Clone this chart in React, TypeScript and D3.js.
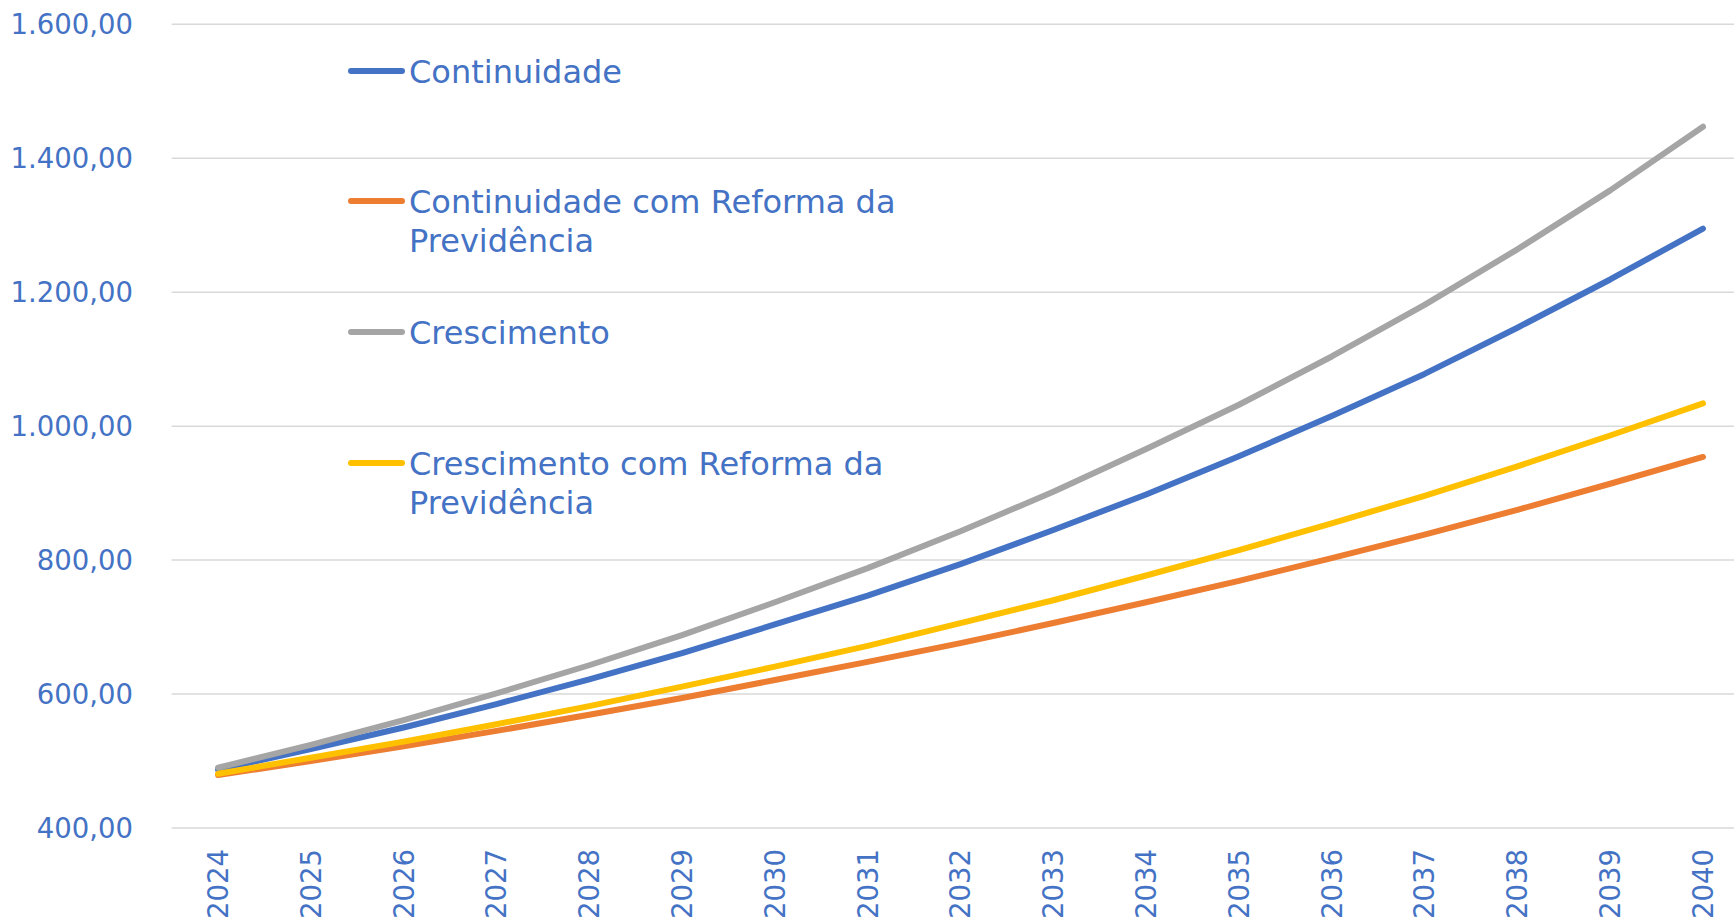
import React from "react";
import * as d3 from "d3";

const years = ["2024","2025","2026","2027","2028","2029","2030","2031","2032","2033","2034","2035","2036","2037","2038","2039","2040"];
const continuidade = [487, 518, 550, 585, 622, 661, 704, 747, 794, 845, 898, 955, 1015, 1078, 1147, 1219, 1295];
const continuidadeReforma = [479, 500, 522, 545, 569, 594, 621, 648, 676, 706, 737, 769, 803, 838, 875, 914, 954];
const crescimento = [490, 524, 561, 601, 643, 688, 737, 788, 843, 902, 966, 1032, 1104, 1181, 1264, 1352, 1447];
const crescimentoReforma = [481, 505, 529, 555, 582, 611, 641, 672, 706, 740, 777, 815, 855, 896, 940, 986, 1034];
const yTicks = [400, 600, 800, 1000, 1200, 1400, 1600];

const series = [
  { name: ["Continuidade"], values: continuidade, color: "#4472C4" },
  { name: ["Continuidade com Reforma da", "Previdência"], values: continuidadeReforma, color: "#ED7D31" },
  { name: ["Crescimento"], values: crescimento, color: "#A5A5A5" },
  { name: ["Crescimento com Reforma da", "Previdência"], values: crescimentoReforma, color: "#FFC000" },
];

const W = 1734, H = 919;
const FONT = "'DejaVu Sans', Lato, sans-serif";
const TEXT = "#4472C4";

export default function App() {
  const x = d3.scaleBand().domain(years).range([171.6, 1749.4]);
  const y = d3.scaleLinear().domain([400, 1600]).range([828, 24.3]);
  const fmt = (v: number) => {
    const s = v.toFixed(2).replace(".", ",");
    const [i, d] = s.split(",");
    return i.replace(/\B(?=(\d{3})+(?!\d))/g, ".") + "," + d;
  };
  const cx = (yr: string) => (x(yr) as number) + x.bandwidth() / 2;
  const line = d3.line<number>().x((_, i) => cx(years[i])).y((v) => y(v)).curve(d3.curveLinear);
  const legendY = [71, 201, 332, 463];
  return (
    <svg width={W} height={H} style={{ position: "absolute", left: 0, top: 0, background: "#fff" }} fontFamily={FONT} fontWeight={400}>
      {yTicks.map((t) => (
        <g key={t}>
          <line x1={171.6} x2={W} y1={y(t)} y2={y(t)} stroke="#D9D9D9" strokeWidth={1.5} />
          <text x={133} y={y(t)} dy="0.36em" textAnchor="end" fontSize={27.5} fill={TEXT}>{fmt(t)}</text>
        </g>
      ))}
      {years.map((yr) => (
        <text key={yr} transform={`translate(${cx(yr)},849) rotate(-90)`} dy="0.36em" textAnchor="end" fontSize={27.5} fill={TEXT}>{yr}</text>
      ))}
      {series.map((s) => (
        <path key={s.color} d={line(s.values) as string} fill="none" stroke={s.color} strokeWidth={6} strokeLinecap="round" strokeLinejoin="round" />
      ))}
      {series.map((s, i) => (
        <g key={"l" + i}>
          <line x1={351} x2={402} y1={legendY[i]} y2={legendY[i]} stroke={s.color} strokeWidth={6} strokeLinecap="round" />
          {s.name.map((n, j) => (
            <text key={j} x={409} y={legendY[i] + j * 39} dy="0.36em" fontSize={32} fill={TEXT}>{n}</text>
          ))}
        </g>
      ))}
    </svg>
  );
}
